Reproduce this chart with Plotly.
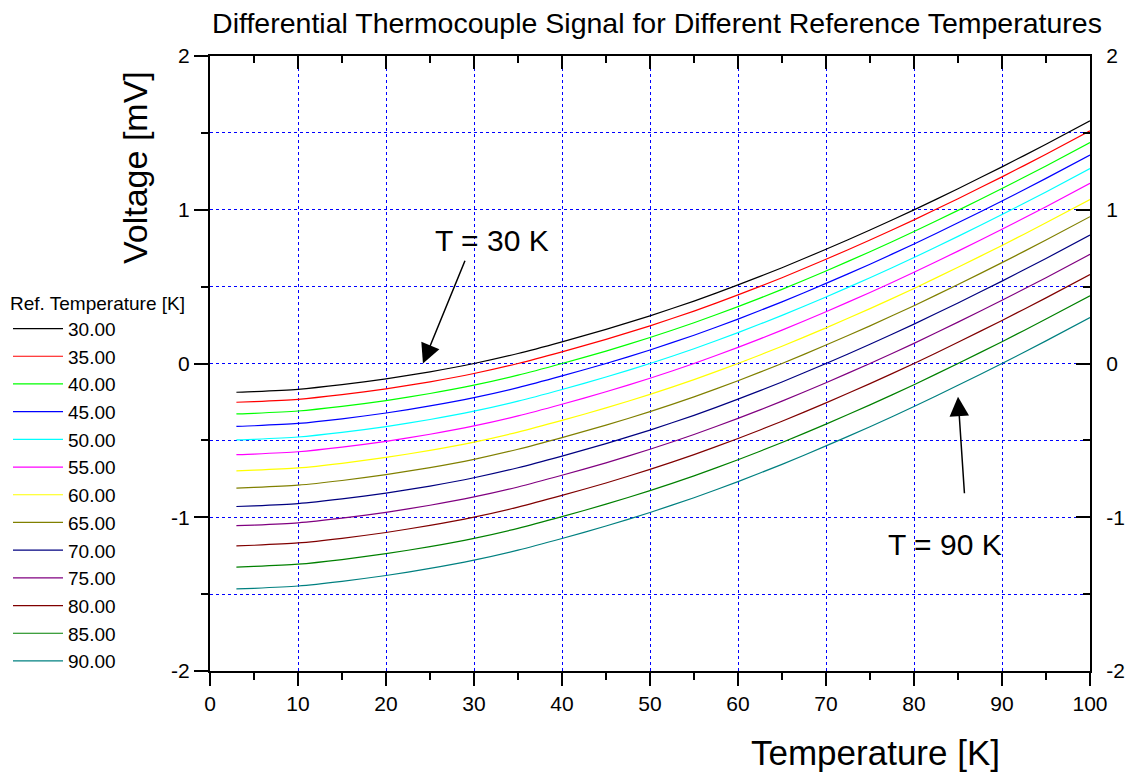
import plotly.graph_objects as go

# Temperature axis values [K]
temperature = [3, 5, 10, 15, 20, 25, 30, 35, 40, 45, 50, 55, 60, 65, 70, 75, 80, 85, 90, 95, 100]

# Differential voltage [mV] for each reference temperature
v_ref30 = [-0.187, -0.183, -0.168, -0.138, -0.100, -0.054, 0.000, 0.065, 0.141, 0.222, 0.310, 0.406, 0.511, 0.623, 0.743, 0.868, 0.999, 1.137, 1.279, 1.426, 1.578]
v_ref35 = [-0.252, -0.248, -0.233, -0.203, -0.165, -0.119, -0.065, 0.000, 0.076, 0.157, 0.245, 0.341, 0.446, 0.558, 0.678, 0.803, 0.934, 1.072, 1.214, 1.361, 1.513]
v_ref40 = [-0.328, -0.324, -0.309, -0.279, -0.241, -0.195, -0.141, -0.076, 0.000, 0.081, 0.169, 0.265, 0.370, 0.482, 0.602, 0.727, 0.858, 0.996, 1.138, 1.285, 1.437]
v_ref45 = [-0.409, -0.405, -0.390, -0.360, -0.322, -0.276, -0.222, -0.157, -0.081, 0.000, 0.088, 0.184, 0.289, 0.401, 0.521, 0.646, 0.777, 0.915, 1.057, 1.204, 1.356]
v_ref50 = [-0.497, -0.493, -0.478, -0.448, -0.410, -0.364, -0.310, -0.245, -0.169, -0.088, 0.000, 0.096, 0.201, 0.313, 0.433, 0.558, 0.689, 0.827, 0.969, 1.116, 1.268]
v_ref55 = [-0.593, -0.589, -0.574, -0.544, -0.506, -0.460, -0.406, -0.341, -0.265, -0.184, -0.096, 0.000, 0.105, 0.217, 0.337, 0.462, 0.593, 0.731, 0.873, 1.020, 1.172]
v_ref60 = [-0.698, -0.694, -0.679, -0.649, -0.611, -0.565, -0.511, -0.446, -0.370, -0.289, -0.201, -0.105, 0.000, 0.112, 0.232, 0.357, 0.488, 0.626, 0.768, 0.915, 1.067]
v_ref65 = [-0.810, -0.806, -0.791, -0.761, -0.723, -0.677, -0.623, -0.558, -0.482, -0.401, -0.313, -0.217, -0.112, 0.000, 0.120, 0.245, 0.376, 0.514, 0.656, 0.803, 0.955]
v_ref70 = [-0.930, -0.926, -0.911, -0.881, -0.843, -0.797, -0.743, -0.678, -0.602, -0.521, -0.433, -0.337, -0.232, -0.120, 0.000, 0.125, 0.256, 0.394, 0.536, 0.683, 0.835]
v_ref75 = [-1.055, -1.051, -1.036, -1.006, -0.968, -0.922, -0.868, -0.803, -0.727, -0.646, -0.558, -0.462, -0.357, -0.245, -0.125, 0.000, 0.131, 0.269, 0.411, 0.558, 0.710]
v_ref80 = [-1.186, -1.182, -1.167, -1.137, -1.099, -1.053, -0.999, -0.934, -0.858, -0.777, -0.689, -0.593, -0.488, -0.376, -0.256, -0.131, 0.000, 0.138, 0.280, 0.427, 0.579]
v_ref85 = [-1.324, -1.320, -1.305, -1.275, -1.237, -1.191, -1.137, -1.072, -0.996, -0.915, -0.827, -0.731, -0.626, -0.514, -0.394, -0.269, -0.138, 0.000, 0.142, 0.289, 0.441]
v_ref90 = [-1.466, -1.462, -1.447, -1.417, -1.379, -1.333, -1.279, -1.214, -1.138, -1.057, -0.969, -0.873, -0.768, -0.656, -0.536, -0.411, -0.280, -0.142, 0.000, 0.147, 0.299]

series_names = ["30.00", "35.00", "40.00", "45.00", "50.00", "55.00", "60.00",
                "65.00", "70.00", "75.00", "80.00", "85.00", "90.00"]
series_values = [v_ref30, v_ref35, v_ref40, v_ref45, v_ref50, v_ref55, v_ref60,
                 v_ref65, v_ref70, v_ref75, v_ref80, v_ref85, v_ref90]
series_colors = ["#000000", "#FF0000", "#00FF00", "#0000FF", "#00FFFF", "#FF00FF", "#FFFF00",
                 "#808000", "#000080", "#800080", "#800000", "#008000", "#008080"]

x_tick_vals = [0, 10, 20, 30, 40, 50, 60, 70, 80, 90, 100]
x_tick_text = ["0", "10", "20", "30", "40", "50", "60", "70", "80", "90", "100"]
y_tick_vals = [-2, -1, 0, 1, 2]
y_tick_text = ["-2", "-1", "0", "1", "2"]

FONT = "Arial, Liberation Sans, sans-serif"

# the page body adds an 8 px offset; figure is sized to fit the window
OFF = 8
W, H = 1133 - OFF, 774 - OFF
PL, PR, PT, PB = 210, 1090, 56, 671   # plot area in page pixels
PW, PH = PR - PL, PB - PT


def px_x(px):
    return (px - PL) / PW


def px_y(py):
    return (PB - py) / PH


fig = go.Figure()
for name, vals, col in zip(series_names, series_values, series_colors):
    fig.add_trace(go.Scatter(x=temperature, y=vals, mode="lines", name=name,
                             line=dict(color=col, width=1.2, shape="spline", smoothing=0.6)))

# helper trace to activate the mirrored axes
fig.add_trace(go.Scatter(x=[None], y=[None], xaxis="x2", yaxis="y2",
                         showlegend=False, hoverinfo="skip"))

grid = dict(showgrid=True, gridcolor="#0000FF", griddash="dot", gridwidth=1)

fig.update_layout(
    width=W, height=H,
    margin=dict(l=PL - OFF, r=W - (PR - OFF), t=PT - OFF, b=H - (PB - OFF), autoexpand=False),
    paper_bgcolor="white", plot_bgcolor="white",
    font=dict(family=FONT, color="black"),
    title=dict(text="Differential Thermocouple Signal for Different Reference Temperatures",
               x=(657 - OFF) / W, xref="container", xanchor="center",
               y=1 - (23 - OFF) / H, yref="container", yanchor="middle",
               font=dict(size=28.5, family=FONT, color="black")),
    xaxis=dict(range=[0, 100], tickmode="array", tickvals=x_tick_vals, ticktext=x_tick_text,
               ticks="outside", ticklen=13, tickwidth=2, tickcolor="black", automargin=False,
               showline=True, linewidth=2, linecolor="black", zeroline=False,
               tickfont=dict(size=21), **grid,
               minor=dict(dtick=5, tick0=0, ticks="outside", ticklen=7, tickwidth=2,
                          tickcolor="black", showgrid=False)),
    yaxis=dict(range=[-2, 2], tickmode="array", tickvals=y_tick_vals, ticktext=y_tick_text,
               ticks="outside", ticklen=14, tickwidth=2, tickcolor="black", automargin=False,
               showline=True, linewidth=2, linecolor="black", zeroline=False,
               tickfont=dict(size=21), **grid,
               minor=dict(dtick=0.5, tick0=0, ticks="outside", ticklen=7, tickwidth=2,
                          tickcolor="black", showgrid=True, gridcolor="#0000FF",
                          griddash="dot", gridwidth=1)),
    xaxis2=dict(range=[0, 100], overlaying="x", side="top", anchor="y", automargin=False,
                tickmode="array", tickvals=x_tick_vals, showticklabels=False,
                ticks="inside", ticklen=13, tickwidth=2, tickcolor="black",
                showline=True, linewidth=2, linecolor="black", showgrid=False, zeroline=False,
                minor=dict(dtick=5, tick0=0, ticks="inside", ticklen=7, tickwidth=2,
                           tickcolor="black", showgrid=False)),
    yaxis2=dict(range=[-2, 2], overlaying="y", side="right", anchor="x", automargin=False,
                tickmode="array", tickvals=y_tick_vals, ticktext=y_tick_text,
                ticks="inside", ticklen=14, tickwidth=2, tickcolor="black",
                showline=True, linewidth=2, linecolor="black", showgrid=False, zeroline=False,
                tickfont=dict(size=21), ticklabelstandoff=10,
                minor=dict(dtick=0.5, tick0=0, ticks="inside", ticklen=7, tickwidth=2,
                           tickcolor="black", showgrid=False)),
    legend=dict(xref="container", yref="container",
                x=0.0, xanchor="left",
                y=1 - (285 - OFF) / H, yanchor="top", maxheight=1,
                bgcolor="rgba(0,0,0,0)", borderwidth=0, itemwidth=50,
                font=dict(size=19, family=FONT, color="black"),
                title=dict(text="Ref. Temperature [K]", font=dict(size=19, family=FONT))),
    showlegend=True,
)

# Axis titles
fig.add_annotation(text="Voltage [mV]", xref="paper", yref="paper",
                   x=px_x(135), y=px_y(168), textangle=-90,
                   showarrow=False, xanchor="center", yanchor="middle",
                   font=dict(size=34, family=FONT, color="black"))
fig.add_annotation(text="Temperature [K]", xref="paper", yref="paper",
                   x=px_x(875), y=px_y(752),
                   showarrow=False, xanchor="center", yanchor="middle",
                   font=dict(size=35, family=FONT, color="black"))

# Labels with arrows
fig.add_annotation(text="T = 30 K", x=32.05, y=0.80, xref="x", yref="y", showarrow=False,
                   font=dict(size=30, family=FONT, color="black"))
fig.add_annotation(text=" ", x=24.2, y=0.0, xref="x", yref="y", showarrow=True,
                   ax=45, ay=-110, arrowhead=2, arrowsize=2.6, arrowwidth=1.5, arrowcolor="black")
fig.add_annotation(text="T = 90 K", x=83.5, y=-1.18, xref="x", yref="y", showarrow=False,
                   font=dict(size=30, family=FONT, color="black"))
fig.add_annotation(text=" ", x=85.0, y=-0.216, xref="x", yref="y", showarrow=True,
                   ax=7, ay=105, arrowhead=2, arrowsize=2.6, arrowwidth=1.5, arrowcolor="black")

fig.write_html("out.html")
